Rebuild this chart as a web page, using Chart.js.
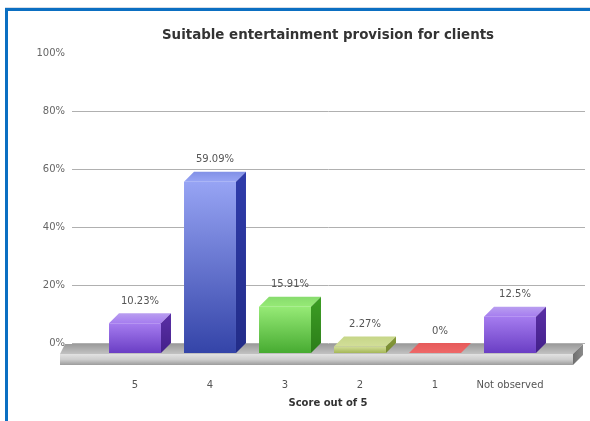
<!DOCTYPE html>
<html>
<head>
<meta charset="utf-8">
<script src="https://cdn.jsdelivr.net/npm/chart.js@4.4.1/dist/chart.umd.min.js"></script>
<style>
  html, body { margin: 0; padding: 0; background: #fff; overflow: hidden; }
  #frame {
    position: absolute;
    left: 5px;
    top: 8px;
    width: 585px;
    height: 413px;
    border-left: 3px solid #0b6fc2;
    border-top: 3px solid #0b6fc2;
    box-shadow: 0 -1px 0 #d6dde6;
  }
  #scoreChart { display: block; }
</style>
</head>
<body>
<div id="frame">
  <canvas id="scoreChart" width="582" height="410"></canvas>
</div>
<script>
const scoreLabels = ["5", "4", "3", "2", "1", "Not observed"];
const scorePercent = [10.23, 59.09, 15.91, 2.27, 0, 12.5];
const yTickValues = [0, 20, 40, 60, 80, 100];

// colours for each bar: front gradient (top, bottom), side gradient, top face
const frontColors = [
  ["#a57cef", "#6a3ec4"],
  ["#97a4f4", "#3444a8"],
  ["#96ea76", "#47ab31"],
  ["#d2de98", "#a5b758"],
  ["#ee6868", "#d23838"],
  ["#a57cef", "#6a3ec4"]
];
const sideColors = [
  ["#5a2fa6", "#43208a"],
  ["#2f3cab", "#222c88"],
  ["#3c9e24", "#2c7d19"],
  ["#869a3a", "#76892f"],
  ["#b02a2a", "#962020"],
  ["#5a2fa6", "#43208a"]
];
const topColors = ["#b99ef0", "#8190e6", "#88dc6e", "#c6d688", "#e65a5a", "#b99ef0"];

// depth of the fake 3D extrusion
const DEPTH = 10;
const Y_AXIS_WIDTH = 62;

function frontFill(ctx) {
  const chart = ctx.chart;
  const yScale = chart.scales.y;
  const cols = frontColors[ctx.dataIndex];
  if (!yScale || !ctx.parsed) return cols[0];
  const top = yScale.getPixelForValue(ctx.parsed.y);
  const base = yScale.getPixelForValue(0);
  if (!isFinite(top) || !isFinite(base) || base - top < 1) return cols[0];
  const g = chart.ctx.createLinearGradient(0, top, 0, base);
  g.addColorStop(0, cols[0]);
  g.addColorStop(1, cols[1]);
  return g;
}

function poly(ctx, pts, fill) {
  ctx.beginPath();
  ctx.moveTo(pts[0][0], pts[0][1]);
  for (let i = 1; i < pts.length; i++) ctx.lineTo(pts[i][0], pts[i][1]);
  ctx.closePath();
  ctx.fillStyle = fill;
  ctx.fill();
}

const box3d = {
  id: "box3d",
  afterLayout(chart) {
    // centre both titles on the whole slab rather than on the padded box
    const area = chart.chartArea;
    const mid = (area.left + area.right) / 2 + 5.5;
    const t = chart.titleBlock;
    const dt = mid - (t.left + t.right) / 2;
    t.left += dt;
    t.right += dt;
    const x = chart.scales.x;
    const dx = mid - (x.left + x.right) / 2;
    x.left += dx;
    x.right += dx;
  },
  beforeDatasetsDraw(chart) {
    const ctx = chart.ctx;
    const area = chart.chartArea;
    const yScale = chart.scales.y;
    const base = yScale.getPixelForValue(0);

    // back wall grid lines
    ctx.save();
    ctx.strokeStyle = "#b0b0b0";
    ctx.lineWidth = 1;
    yScale.ticks.forEach(t => {
      if (t.value >= yScale.max) return;
      const y = Math.round(yScale.getPixelForValue(t.value) - DEPTH) + 0.5;
      ctx.beginPath();
      ctx.moveTo(area.left - 25.5, y);
      ctx.lineTo(area.right + 37.5, y);
      ctx.stroke();
    });

    // floor slab
    const fl = area.left - 37.5, fr = area.right + 25.5;
    const bl = area.left - 32.5, br = area.right + 35.5;
    let g = ctx.createLinearGradient(0, base - DEPTH + 1, 0, base + 1);
    g.addColorStop(0, "#9a9a9a");
    g.addColorStop(1, "#c2c2c2");
    poly(ctx, [[fl, base + 1], [bl, base - DEPTH + 1], [br, base - DEPTH + 1], [fr, base + 1]], g);
    g = ctx.createLinearGradient(0, base + 1, 0, base + 12);
    g.addColorStop(0, "#e2e2e2");
    g.addColorStop(0.5, "#cdcdcd");
    g.addColorStop(1, "#9c9c9c");
    poly(ctx, [[fl, base + 1], [fr, base + 1], [fr, base + 12], [fl, base + 12]], g);
    g = ctx.createLinearGradient(fr, 0, br, 0);
    g.addColorStop(0, "#6e6e6e");
    g.addColorStop(1, "#8a8a8a");
    poly(ctx, [[fr, base + 1], [br, base - DEPTH + 1], [br, base + 2], [fr, base + 12]], g);
    ctx.restore();
  },
  afterDatasetsDraw(chart) {
    const ctx = chart.ctx;
    const meta = chart.getDatasetMeta(0);
    ctx.save();
    meta.data.forEach((bar, i) => {
      const p = bar.getProps(["x", "y", "base", "width"], true);
      const l = p.x - p.width / 2, r = p.x + p.width / 2;
      const top = Math.min(p.y, p.base);

      // top face
      const tg = ctx.createLinearGradient(0, top - DEPTH, 0, top);
      tg.addColorStop(0, topColors[i]);
      tg.addColorStop(1, frontColors[i][0]);
      poly(ctx, [[l, top], [l + DEPTH, top - DEPTH], [r + DEPTH, top - DEPTH], [r, top]], tg);

      // right side face
      if (p.base - top > 0.5) {
        const sg = ctx.createLinearGradient(0, top - DEPTH, 0, p.base);
        sg.addColorStop(0, sideColors[i][0]);
        sg.addColorStop(1, sideColors[i][1]);
        poly(ctx, [[r, top], [r + DEPTH, top - DEPTH], [r + DEPTH, p.base - DEPTH], [r, p.base]], sg);
      }

      // value label above the box
      ctx.fillStyle = "#555";
      ctx.font = "10px 'DejaVu Sans'";
      ctx.textAlign = "center";
      ctx.textBaseline = "middle";
      ctx.fillText(scorePercent[i] + "%", p.x + DEPTH / 2, top - DEPTH - 12);
    });
    ctx.restore();
  }
};

new Chart(document.getElementById("scoreChart"), {
  type: "bar",
  data: {
    labels: scoreLabels,
    datasets: [{
      data: scorePercent,
      backgroundColor: frontFill,
      borderWidth: 0,
      barPercentage: 0.693,
      categoryPercentage: 1
    }]
  },
  options: {
    responsive: false,
    animation: false,
    layout: { padding: { left: 89.5 - Y_AXIS_WIDTH, right: 42.5, top: 0, bottom: 6 } },
    plugins: {
      legend: { display: false },
      tooltip: { enabled: false },
      title: {
        display: true,
        text: "Suitable entertainment provision for clients",
        color: "#333",
        font: { family: "'DejaVu Sans'", size: 13.4, weight: "bold", lineHeight: 1.2 },
        padding: { top: 16, bottom: 19.9 }
      }
    },
    scales: {
      x: {
        grid: { display: false, drawTicks: true, tickLength: 20 },
        border: { display: false },
        ticks: { color: "#555", padding: 6, font: { family: "'DejaVu Sans'", size: 10 } },
        title: {
          display: true,
          text: "Score out of 5",
          color: "#333",
          font: { family: "'DejaVu Sans'", size: 10, weight: "bold", lineHeight: 1.2 },
          padding: { top: 0, bottom: 6 }
        }
      },
      y: {
        min: 0,
        max: 100,
        grid: { display: false, drawTicks: false },
        border: { display: false },
        afterBuildTicks: s => { s.ticks = yTickValues.map(v => ({ value: v })); },
        afterFit: s => { s.width = Y_AXIS_WIDTH; },
        ticks: {
          color: "#666",
          padding: 32.5,
          labelOffset: -DEPTH,
          font: { family: "'DejaVu Sans'", size: 10 },
          callback: v => v + "%"
        }
      }
    }
  },
  plugins: [box3d]
});
</script>
</body>
</html>
